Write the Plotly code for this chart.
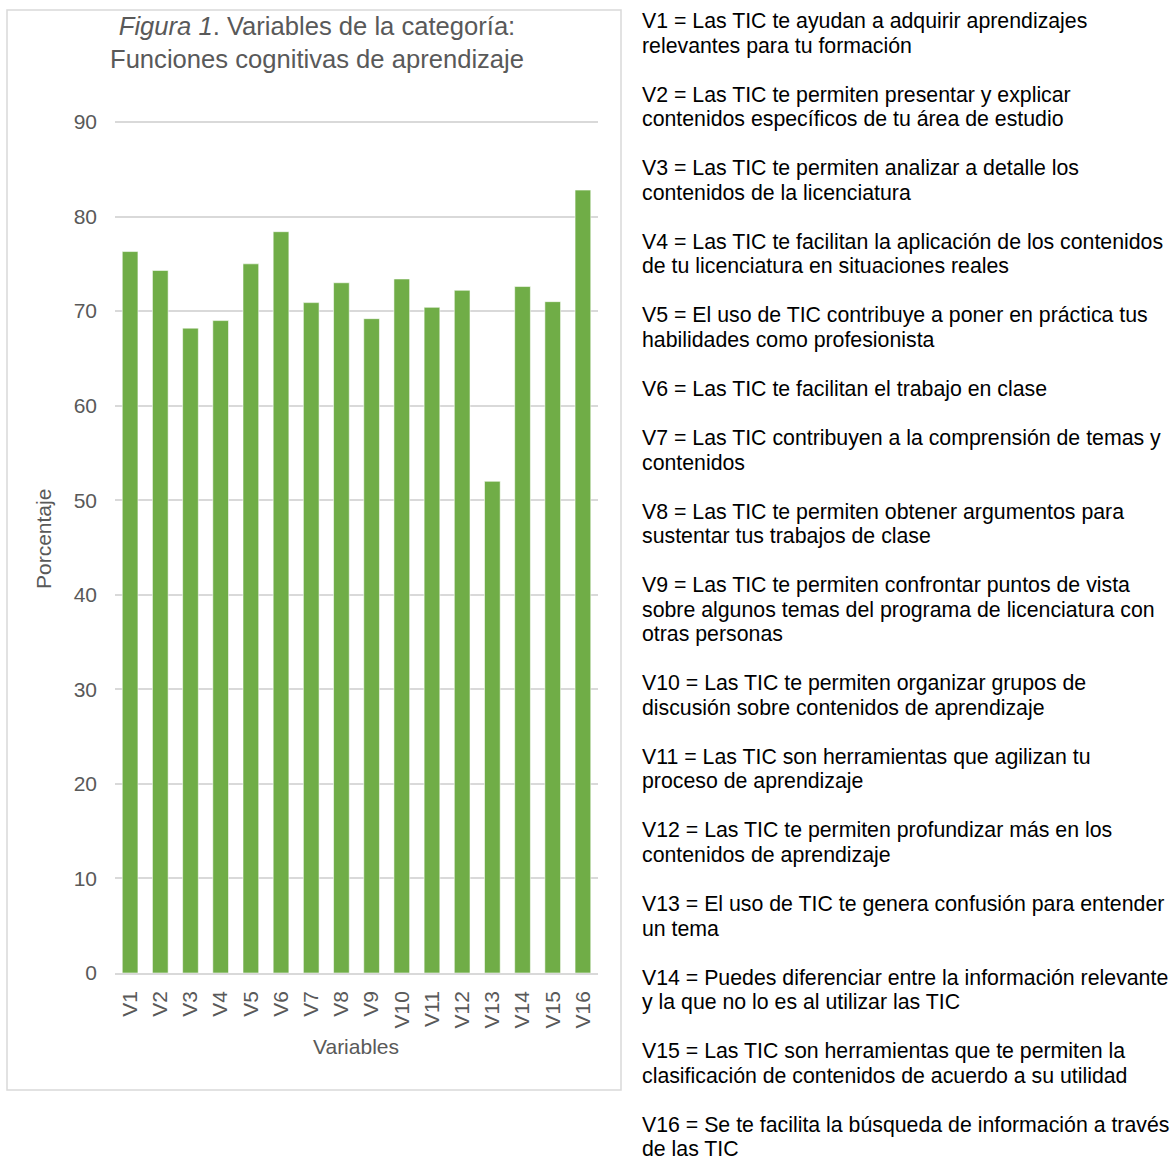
import plotly.graph_objects as go

# Percentage of agreement for each variable
categories = ["V1", "V2", "V3", "V4", "V5", "V6", "V7", "V8",
              "V9", "V10", "V11", "V12", "V13", "V14", "V15", "V16"]
values = [76.3, 74.3, 68.2, 69.0, 75.0, 78.4, 70.9, 73.0,
          69.2, 73.4, 70.4, 72.2, 52.0, 72.6, 71.0, 82.8]
y_ticks = [0, 10, 20, 30, 40, 50, 60, 70, 80, 90]

# Variable descriptions shown beside the chart (one list of lines per variable)
descriptions = [
    ["V1 = Las TIC te ayudan a adquirir aprendizajes", "relevantes para tu formación"],
    ["V2 = Las TIC te permiten presentar y explicar", "contenidos específicos de tu área de estudio"],
    ["V3 = Las TIC te permiten analizar a detalle los", "contenidos de la licenciatura"],
    ["V4 = Las TIC te facilitan la aplicación de los contenidos", "de tu licenciatura en situaciones reales"],
    ["V5 = El uso de TIC contribuye a poner en práctica tus", "habilidades como profesionista"],
    ["V6 = Las TIC te facilitan el trabajo en clase"],
    ["V7 = Las TIC contribuyen a la comprensión de temas y", "contenidos"],
    ["V8 = Las TIC te permiten obtener argumentos para", "sustentar tus trabajos de clase"],
    ["V9 = Las TIC te permiten confrontar puntos de vista",
     "sobre algunos temas del programa de licenciatura con", "otras personas"],
    ["V10 = Las TIC te permiten organizar grupos de", "discusión sobre contenidos de aprendizaje"],
    ["V11 = Las TIC son herramientas que agilizan tu", "proceso de aprendizaje"],
    ["V12 = Las TIC te permiten profundizar más en los", "contenidos de aprendizaje"],
    ["V13 = El uso de TIC te genera confusión para entender", "un tema"],
    ["V14 = Puedes diferenciar entre la información relevante", "y la que no lo es al utilizar las TIC"],
    ["V15 = Las TIC son herramientas que te permiten la", "clasificación de contenidos de acuerdo a su utilidad"],
    ["V16 = Se te facilita la búsqueda de información a través", "de las TIC"],
]

W, H = 1172, 1160
L, R, T, B = 115, 574, 117, 187
PW, PH = W - L - R, H - T - B
Y_TOP = 90.53  # small headroom so the 90 gridline is drawn

FONT = "Liberation Sans, Arial, sans-serif"
AXIS_GREY = "#595959"
GRID = "#D9D9D9"


def px(x):
    return (x - L) / PW


def py(y):
    return (H - B - y) / PH


fig = go.Figure(
    go.Bar(
        x=categories,
        y=values,
        marker=dict(color="#70AD47", line=dict(color="rgba(255,255,255,0.7)", width=0.8)),
        hoverinfo="x+y",
    )
)

annotations = [
    # chart title
    dict(text="<i>Figura 1</i>. Variables de la categoría:<br>Funciones cognitivas de aprendizaje",
         x=px(317), y=py(42), xref="paper", yref="paper", showarrow=False,
         xanchor="center", yanchor="middle",
         font=dict(family=FONT, size=25.6, color=AXIS_GREY)),
    # y axis title
    dict(text="Porcentaje", x=px(43), y=py(539), xref="paper", yref="paper",
         showarrow=False, textangle=-90, xanchor="center", yanchor="middle",
         font=dict(family=FONT, size=21, color=AXIS_GREY)),
    # x axis title
    dict(text="Variables", x=px(356), y=py(1046), xref="paper", yref="paper",
         showarrow=False, xanchor="center", yanchor="middle",
         font=dict(family=FONT, size=21, color=AXIS_GREY)),
]

# description block on the right, one annotation per line
line_step = 24.53
y_line = 21
for para in descriptions:
    for line in para:
        annotations.append(dict(
            text=line, x=px(640), y=py(y_line), xref="paper", yref="paper",
            showarrow=False, xanchor="left", yanchor="middle",
            font=dict(family=FONT, size=21.3, color="#000000")))
        y_line += line_step
    y_line += line_step

fig.update_layout(
    width=W, height=H,
    margin=dict(l=L, r=R, t=T, b=B, autoexpand=False),
    paper_bgcolor="white", plot_bgcolor="white",
    bargap=0.48,
    showlegend=False,
    font=dict(family=FONT, color=AXIS_GREY),
    annotations=annotations,
    shapes=[dict(type="rect", xref="paper", yref="paper",
                 x0=px(7), x1=px(621), y0=py(1090), y1=py(10),
                 line=dict(color=GRID, width=1.5), layer="below")],
)

fig.update_xaxes(
    tickangle=-90, ticklabelstandoff=8,
    tickfont=dict(family=FONT, size=21, color=AXIS_GREY),
    showline=True, linecolor=GRID, linewidth=1.5,
    showgrid=False, ticks="",
)
fig.update_yaxes(
    range=[0, Y_TOP], tickvals=y_ticks,
    tickfont=dict(family=FONT, size=21, color=AXIS_GREY),
    showgrid=True, gridcolor=GRID, gridwidth=1.5,
    zeroline=False, showline=False, ticks="", ticklabelstandoff=17,
)

fig.write_html("out.html")
